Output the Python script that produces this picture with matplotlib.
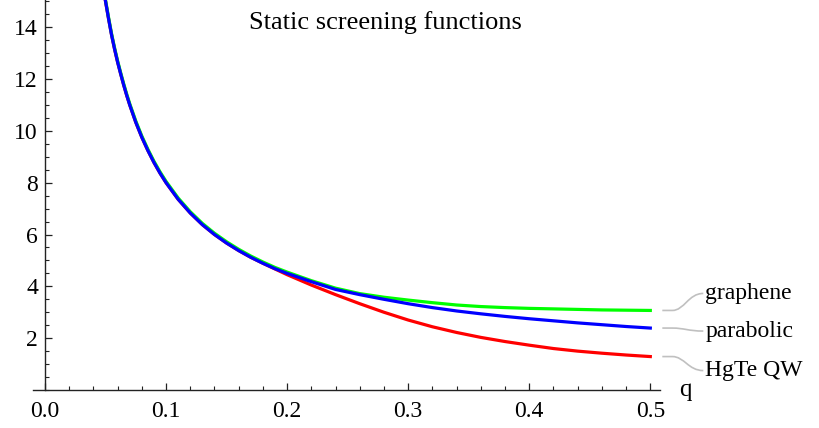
import numpy as np
import matplotlib
matplotlib.use("Agg")
import matplotlib.pyplot as plt
from matplotlib.path import Path
from matplotlib.patches import PathPatch
from matplotlib.transforms import Affine2D
from matplotlib.ticker import MultipleLocator

plt.rcParams['font.family'] = ['Liberation Serif', 'DejaVu Serif']

# values
q = [0.05, 0.0525, 0.055, 0.0575, 0.06, 0.0625, 0.065, 0.0675, 0.07, 0.075, 0.08,
     0.085, 0.09, 0.095, 0.10, 0.11, 0.12, 0.13, 0.14, 0.15, 0.16, 0.17, 0.18, 0.19,
     0.20, 0.22, 0.24, 0.26, 0.28, 0.30, 0.32, 0.34, 0.36, 0.38, 0.40, 0.42, 0.44,
     0.46, 0.48, 0.50]
parabolic = [15.0, 14.33, 13.7, 13.15, 12.65, 12.2, 11.77, 11.37, 11.0, 10.33, 9.75,
             9.24, 8.78, 8.37, 8.0, 7.36, 6.83, 6.38, 6.0, 5.67, 5.38, 5.12, 4.89, 4.68,
             4.5, 4.18, 3.88, 3.68, 3.5, 3.33, 3.18, 3.05, 2.94, 2.84, 2.75, 2.67, 2.59,
             2.52, 2.45, 2.39]
graphene = [15.05, 14.38, 13.75, 13.2, 12.7, 12.25, 11.82, 11.42, 11.05, 10.38, 9.8,
            9.29, 8.83, 8.42, 8.05, 7.41, 6.88, 6.43, 6.05, 5.72, 5.43, 5.17, 4.94, 4.73,
            4.55, 4.22, 3.93, 3.72, 3.58, 3.47, 3.37, 3.28, 3.22, 3.18, 3.15, 3.13, 3.11,
            3.09, 3.08, 3.07]
hgte = [15.0, 14.33, 13.7, 13.15, 12.65, 12.2, 11.77, 11.37, 11.0, 10.33, 9.75,
        9.24, 8.78, 8.37, 8.0, 7.36, 6.83, 6.38, 6.0, 5.67, 5.38, 5.12, 4.89, 4.67,
        4.45, 4.05, 3.68, 3.33, 3.0, 2.7, 2.44, 2.22, 2.03, 1.87, 1.73, 1.6, 1.5,
        1.42, 1.35, 1.29]

labels = ['graphene', 'parabolic', 'HgTe QW']
series = [graphene, parabolic, hgte]
colors = ['#00ff00', '#0000ff', '#ff0000']
label_dy = [17, -3, -14]   # pixel offset of the callout label from the curve end

fig = plt.figure(figsize=(8.19, 4.28), dpi=100)
ax = fig.add_axes([33 / 819, 38 / 428, 627 / 819, 390 / 428])

ax.plot(q, hgte, color=colors[2], lw=2.3, zorder=2)
ax.plot(q, graphene, color=colors[0], lw=2.3, zorder=3)
ax.plot(q, parabolic, color=colors[1], lw=2.3, zorder=4)

ax.set_xlim(-0.0099, 0.508)
ax.set_ylim(0, 15.05)

ax.spines['top'].set_visible(False)
ax.spines['right'].set_visible(False)
ax.spines['left'].set_position(('data', 0))
for s in ['left', 'bottom']:
    ax.spines[s].set_linewidth(1.0)
    ax.spines[s].set_color('#222222')

ax.xaxis.set_minor_locator(MultipleLocator(0.02))
ax.yaxis.set_minor_locator(MultipleLocator(0.5))
ax.set_xticks([0.0, 0.1, 0.2, 0.3, 0.4, 0.5])
ax.set_xticklabels(['0.0', '0.1', '0.2', '0.3', '0.4', '0.5'])
ax.set_yticks([2, 4, 6, 8, 10, 12, 14])
ax.tick_params(which='major', direction='in', length=5, width=0.9, labelsize=17,
               color='#222222')
ax.tick_params(which='minor', direction='in', length=3, width=0.8, color='#222222')
ax.tick_params(axis='x', pad=8)
ax.tick_params(axis='y', pad=5)

ax.text(1.03, 0.0, 'q', transform=ax.transAxes, fontsize=18, ha='left', va='center')
fig.text(0.471, 0.947, 'Static screening functions', fontsize=19, ha='center', va='center')

# callouts
for lab, vals, dy in zip(labels, series, label_dy):
    x0, y0 = ax.transData.transform((q[-1], vals[-1]))
    verts = [(12, 0), (22, 0), (34, 0), (38, dy), (53, dy)]
    codes = [Path.MOVETO, Path.LINETO, Path.CURVE4, Path.CURVE4, Path.CURVE4]
    patch = PathPatch(Path(verts, codes), facecolor='none', edgecolor='#c0c0c0', lw=1.2,
                      transform=Affine2D().translate(x0, y0), clip_on=False)
    fig.add_artist(patch)
    fig.text((x0 + 55) / 819, (y0 + dy) / 428, lab, fontsize=17, ha='left', va='center')

fig.savefig('out.png', dpi=100)
